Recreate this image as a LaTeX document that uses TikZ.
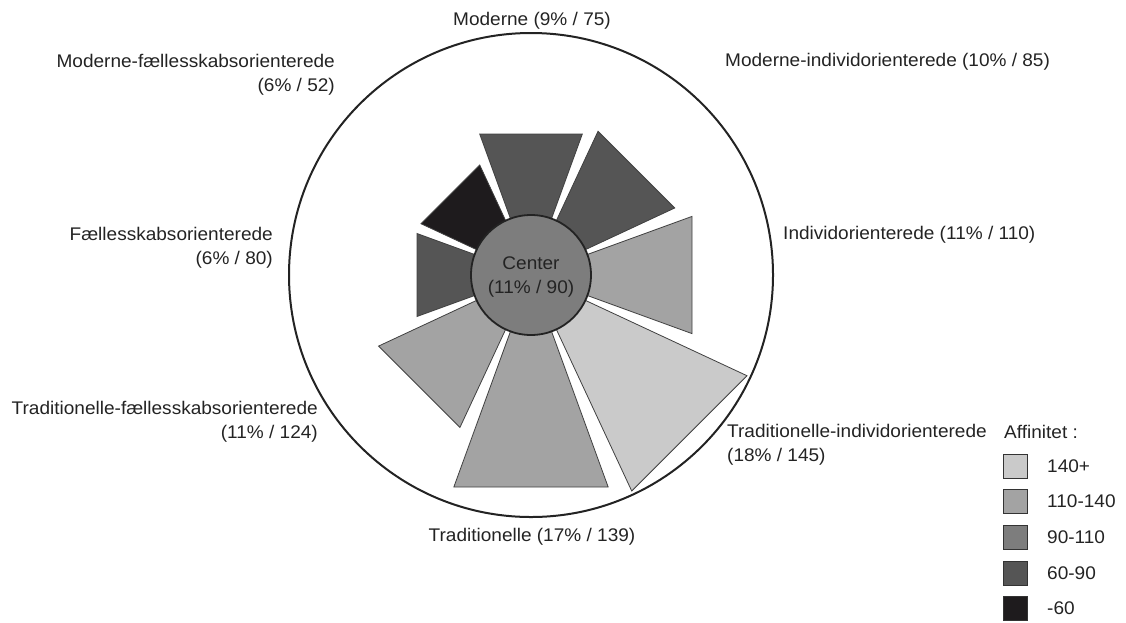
\documentclass[tikz,border=0pt]{standalone}
\usepackage{fontspec}
\setmainfont{Liberation Sans}[FakeStretch=1.04]
\usetikzlibrary{calc}
\definecolor{cA}{RGB}{202,202,202}
\definecolor{cB}{RGB}{163,163,163}
\definecolor{cC}{RGB}{125,125,125}
\definecolor{cD}{RGB}{85,85,85}
\definecolor{cE}{RGB}{30,27,29}
\definecolor{ink}{RGB}{35,35,35}
\newcommand\segm[4]{%
  \fill[#3,seg] ($(C)+({-(#1)-20}:48)$) -- ($(C)+({-(#1)-20}:{#2*1.0642})$)
   -- ($(C)+({-(#1)+20}:{#2*1.0642})$) -- ($(C)+({-(#1)+20}:48)$) -- cycle;
  \coordinate (#4) at ($(C)+({-(#1)}:#2)$);}
\begin{document}
\begin{tikzpicture}[x=1pt,y=-1pt,
  lbl/.style={inner sep=0pt,font=\fontsize{18.3}{23.5}\selectfont,text=ink},
  seg/.style={draw=black!75,line width=0.8pt,line join=miter},
  key/.style={draw=black!80,line width=0.8pt,minimum size=24pt,inner sep=0pt}]
\useasboundingbox (0,0) rectangle (1126,622);
\coordinate (C) at (531,275);
\draw[line width=2pt,draw=ink] (C) circle (242);
\segm{90}{141}{cD}{sM}
\segm{45}{149}{cD}{sMI}
\segm{0}{161}{cB}{sI}
\segm{-45}{224}{cA}{sTI}
\segm{-90}{212}{cB}{sT}
\segm{-135}{158}{cB}{sTF}
\segm{180}{114}{cD}{sF}
\segm{135}{114}{cE}{sMF}
\node[circle,fill=cC,draw=ink,line width=1.8pt,minimum size=120pt,inner sep=0pt] (ctr) at (C) {};
\node[lbl,align=center] (ctrl) at (531,277) {Center\\(11\% / 90)};
% labels
\node[lbl] (lM) at (532,21) {Moderne (9\% / 75)};
\node[lbl,align=right,anchor=east] (lMF) at (335,75) {Moderne-fællesskabsorienterede\\(6\% / 52)};
\node[lbl,anchor=west] (lMI) at (725,62) {Moderne-individorienterede (10\% / 85)};
\node[lbl,anchor=west] (lI) at (783,235) {Individorienterede (11\% / 110)};
\node[lbl,align=right,anchor=east] (lF) at (273,248) {Fællesskabsorienterede\\(6\% / 80)};
\node[lbl,align=right,anchor=east] (lTF) at (318,422) {Traditionelle-fællesskabsorienterede\\(11\% / 124)};
\node[lbl,align=left,anchor=west] (lTI) at (727,445) {Traditionelle-individorienterede\\(18\% / 145)};
\node[lbl] (lT) at (532,537) {Traditionelle (17\% / 139)};
% legend
\node[lbl,anchor=west] (lg) at (1004,432) {Affinitet :};
\node[key,fill=cA] (k1) at (1015.5,466) {};
\node[key,fill=cB] (k2) at (1015.5,501) {};
\node[key,fill=cC] (k3) at (1015.5,537) {};
\node[key,fill=cD] (k4) at (1015.5,573) {};
\node[key,fill=cE] (k5) at (1015.5,608) {};
\node[lbl,anchor=west] (t1) at (1047,466) {140+};
\node[lbl,anchor=west] (t2) at (1047,501) {110-140};
\node[lbl,anchor=west] (t3) at (1047,537) {90-110};
\node[lbl,anchor=west] (t4) at (1047,573) {60-90};
\node[lbl,anchor=west] (t5) at (1047,608) {-60};
\end{tikzpicture}
\end{document}
